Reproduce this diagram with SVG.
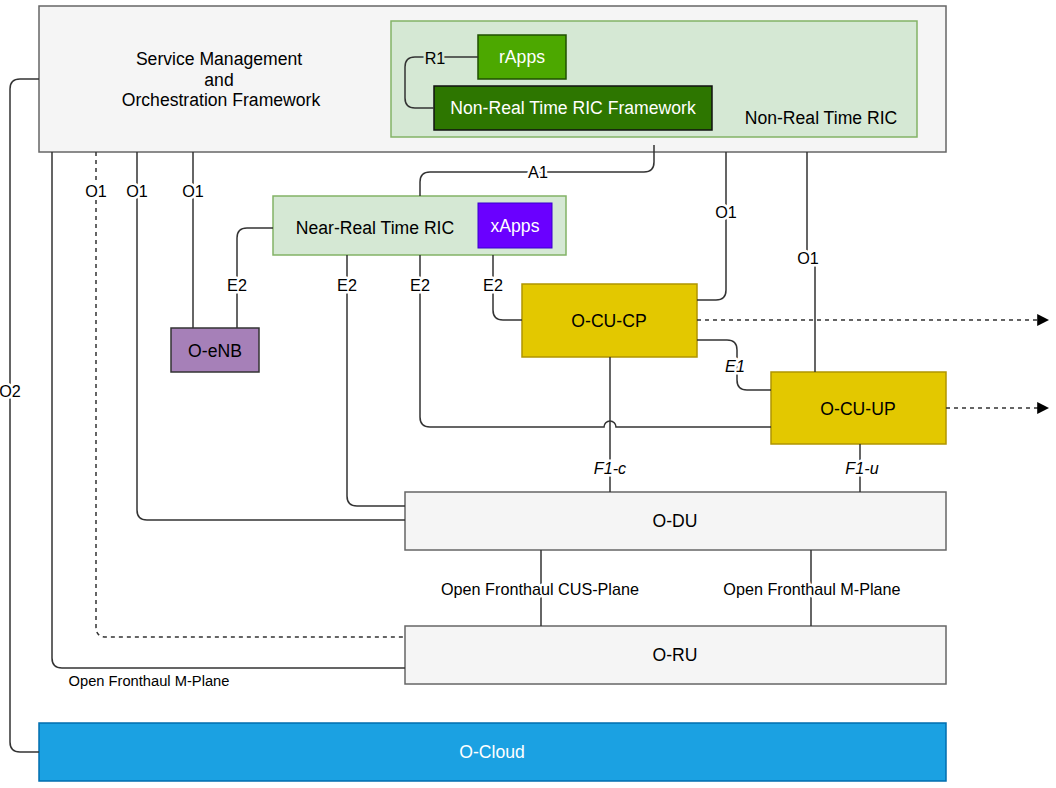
<svg xmlns="http://www.w3.org/2000/svg" width="1056" height="788" viewBox="0 0 1056 788">
<defs>
<style>
text{font-family:"Liberation Sans",Arial,sans-serif;dominant-baseline:central;text-anchor:middle;fill:#000}
.n{font-size:17.6px}
.w{fill:#fff}
.e{fill:none;stroke:#333;stroke-width:1.5}
.d{stroke-dasharray:4 4}
.lb{font-size:16.2px;stroke:#fff;stroke-width:5;paint-order:stroke;stroke-linejoin:round}
.it{font-style:italic}
.gray{fill:#f5f5f5;stroke:#666;stroke-width:1.5}
.cu{fill:#e3c800;stroke:#b09500;stroke-width:1.5}
</style>
<marker id="ar" viewBox="0 0 10 10" refX="9" refY="5" markerWidth="12" markerHeight="12" markerUnits="userSpaceOnUse" orient="auto"><path d="M0,0 L10,5 L0,10 z" fill="#000"/></marker>
</defs>
<g id="smo"><rect class="gray" x="39" y="6" width="907" height="146"/>
<text class="n" x="219" y="59">Service Management</text><text class="n" x="219" y="80">and</text><text class="n" x="221" y="100">Orchestration Framework</text></g>
<g id="nonrt"><rect x="391" y="21" width="526" height="116" fill="#d5e8d4" stroke="#82b366" stroke-width="1.5"/><text class="n" x="821" y="118">Non-Real Time RIC</text></g>
<g id="rapps"><rect x="478" y="35" width="88" height="44" fill="#4ca800" stroke="#1f4f00" stroke-width="1.5"/><text class="n w" x="522" y="57">rApps</text></g>
<g id="framework"><rect x="434" y="86" width="278" height="44" fill="#2d7600" stroke="#111" stroke-width="1.5"/><text class="n w" x="573" y="108">Non-Real Time RIC Framework</text></g>
<g id="nearrt"><rect x="273" y="196" width="293" height="59" fill="#d5e8d4" stroke="#82b366" stroke-width="1.5"/><text class="n" x="375" y="228">Near-Real Time RIC</text></g>
<g id="xapps"><rect x="478" y="203" width="74" height="45" fill="#6a00ff" stroke="#3700cc" stroke-width="1"/><text class="n w" x="515" y="226">xApps</text></g>
<g id="oenb"><rect x="171" y="328" width="88" height="44" fill="#a680b8" stroke="#333" stroke-width="1.5"/><text class="n" x="215" y="351">O-eNB</text></g>
<g id="ocucp"><rect class="cu" x="522" y="284" width="175" height="73"/><text class="n" x="609" y="321">O-CU-CP</text></g>
<g id="ocuup"><rect class="cu" x="771" y="372" width="175" height="72"/><text class="n" x="858" y="409">O-CU-UP</text></g>
<g id="odu"><rect class="gray" x="405" y="492" width="541" height="58"/><text class="n" x="675" y="521">O-DU</text></g>
<g id="oru"><rect class="gray" x="405" y="626" width="541" height="58"/><text class="n" x="675" y="655">O-RU</text></g>
<g id="ocloud"><rect x="39" y="723" width="907" height="58" fill="#1ba1e2" stroke="#006eaf" stroke-width="1.5"/><text class="n w" x="492" y="752">O-Cloud</text></g>
<g id="connectors">
<path class="e" d="M478,57 H415 Q405,57 405,67 V98 Q405,108 415,108 H434"/>
<path class="e" d="M39,79 H20 Q10,79 10,89 V742 Q10,752 20,752 H39"/>
<path class="e" d="M52,152 V658 Q52,668 62,668 H405"/>
<path class="e d" d="M96,152 V627 Q96,637 106,637 H405"/>
<path class="e" d="M137,152 V510 Q137,520 147,520 H405"/>
<path class="e" d="M193,152 V328"/>
<path class="e" d="M654,145 V162 Q654,172 644,172 H430 Q420,172 420,182 V196"/>
<path class="e" d="M726,152 V290 Q726,300 716,300 H697"/>
<path class="e" d="M807,152 V258 H815 V372"/>
<path class="e" d="M273,228 H247 Q237,228 237,238 V328"/>
<path class="e" d="M347,255 V496 Q347,506 357,506 H405"/>
<path class="e" d="M420,255 V417 Q420,427 430,427 H604 A6,6 0 0 1 616,427 H771"/>
<path class="e" d="M493,255 V310 Q493,320 503,320 H522"/>
<path class="e" d="M697,340 H727 Q737,340 737,350 V380 Q737,390 747,390 H771"/>
<path class="e" d="M610,357 V492"/>
<path class="e" d="M860,444 V492"/>
<path class="e" d="M541,550 V626"/>
<path class="e" d="M811,550 V626"/>
<path class="e d" d="M697,320 H1048" marker-end="url(#ar)"/>
<path class="e d" d="M946,408 H1048" marker-end="url(#ar)"/>
<text class="lb" x="435" y="58" style="stroke:#d5e8d4">R1</text>
<text class="lb" x="10" y="391">O2</text>
<text class="lb" x="96" y="191">O1</text>
<text class="lb" x="137" y="191">O1</text>
<text class="lb" x="193" y="191">O1</text>
<text class="lb" x="538" y="172">A1</text>
<text class="lb" x="726" y="212">O1</text>
<text class="lb" x="808" y="258">O1</text>
<text class="lb" x="237" y="285">E2</text>
<text class="lb" x="347" y="285">E2</text>
<text class="lb" x="420" y="285">E2</text>
<text class="lb" x="493" y="285">E2</text>
<text class="lb it" x="735" y="366">E1</text>
<text class="lb it" x="610" y="468">F1-c</text>
<text class="lb it" x="862" y="468">F1-u</text>
<text class="lb" x="540" y="589">Open Fronthaul CUS-Plane</text>
<text class="lb" x="812" y="589">Open Fronthaul M-Plane</text>
<text x="149" y="681" style="font-size:14.7px">Open Fronthaul M-Plane</text>
</g>
</svg>
